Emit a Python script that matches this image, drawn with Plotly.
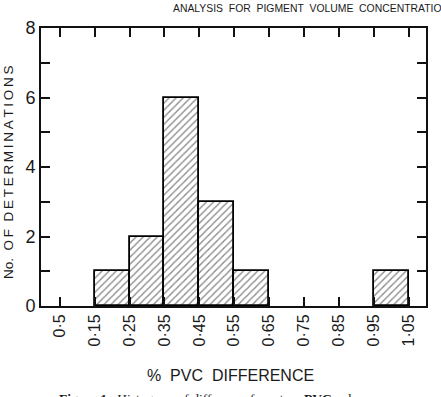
import plotly.graph_objects as go

# Data
bin_left = [0.15, 0.25, 0.35, 0.45, 0.55, 0.95]
bin_right = [0.25, 0.35, 0.45, 0.55, 0.65, 1.05]
counts = [1, 2, 6, 3, 1, 1]

x_tick_vals = [0.05, 0.15, 0.25, 0.35, 0.45, 0.55, 0.65, 0.75, 0.85, 0.95, 1.05]
x_tick_text = ["0·5", "0·15", "0·25", "0·35", "0·45", "0·55", "0·65", "0·75", "0·85", "0·95", "1·05"]
y_tick_vals = [0, 1, 2, 3, 4, 5, 6, 7, 8]
y_tick_text = ["0", "", "2", "", "4", "", "6", "", "8"]

centers = [(a + b) / 2 for a, b in zip(bin_left, bin_right)]
widths = [b - a for a, b in zip(bin_left, bin_right)]

fig = go.Figure()
fig.add_trace(go.Bar(
    x=centers, y=counts, width=widths,
    marker=dict(
        color="white",
        line=dict(color="black", width=1.8),
        pattern=dict(shape="/", fgcolor="#1a1a1a", bgcolor="white", size=5, solidity=0.28),
    ),
    showlegend=False,
))

HS = "\u2009"
ytitle = "No." + "  " + HS.join("OF") + "  " + HS.join("DETERMINATIONS")

fig.update_layout(
    width=441, height=397,
    margin=dict(l=41, r=15, t=28, b=91),
    paper_bgcolor="white", plot_bgcolor="white",
    font=dict(family="Liberation Sans, DejaVu Sans, sans-serif", color="#1a1a1a"),
    bargap=0,
    xaxis=dict(
        range=[-0.004, 1.10], tickmode="array", tickvals=x_tick_vals, ticktext=x_tick_text,
        ticks="inside", ticklen=9, tickwidth=2, tickcolor="#111",
        showline=True, linecolor="#111", linewidth=2, mirror="allticks",
        tickangle=-90, tickfont=dict(size=16), showgrid=False, zeroline=False,
    ),
    yaxis=dict(
        range=[0, 8], tickmode="array", tickvals=y_tick_vals, ticktext=y_tick_text,
        ticks="inside", ticklen=9, tickwidth=2, tickcolor="#111",
        showline=True, linecolor="#111", linewidth=2, mirror="allticks",
        tickfont=dict(size=18), showgrid=False, zeroline=False,
    ),
    annotations=[
        dict(text=ytitle, xref="paper", yref="paper", x=-0.086, y=0.482,
             textangle=-90, showarrow=False, font=dict(size=13.5), xanchor="center", yanchor="middle"),
        dict(text="%  PVC  DIFFERENCE", xref="paper", yref="paper", x=(230 - 41) / 385, y=(306 - 375) / 278,
             showarrow=False, font=dict(size=16), xanchor="center", yanchor="middle"),
        dict(text="ANALYSIS  FOR  PIGMENT  VOLUME  CONCENTRATION", xref="paper", yref="paper",
             x=(171 - 41) / 385, y=(306 - 8) / 278, showarrow=False, font=dict(size=10.4),
             xanchor="left", yanchor="middle"),
        dict(text="<b>Figure 1.</b>  Histogram of difference from true <b>PVC</b> value",
             xref="paper", yref="paper", x=(211 - 41) / 385, y=(306 - 398) / 278,
             showarrow=False, font=dict(size=13.5, family="Liberation Serif, serif"),
             xanchor="center", yanchor="middle"),
    ],
)

fig.write_html("out.html")
